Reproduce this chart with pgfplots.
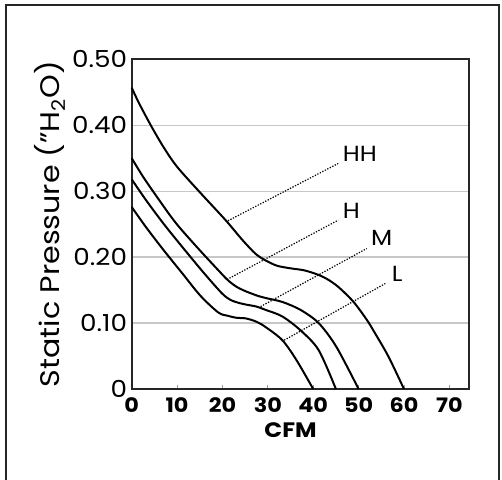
\documentclass[border=0pt]{standalone}
\usepackage{pgfplots}
\pgfplotsset{compat=1.18}
\usepackage{fontspec}
\setmainfont{Poppins}[FakeStretch=1.12]

\begin{document}
\begin{tikzpicture}
\useasboundingbox (0,0) rectangle (502bp,480bp);
% outer frame, open at the bottom
\draw[line width=2.3bp, black!85] (6bp,-10bp) -- (6bp,475bp) -- (499bp,475bp) -- (499bp,-10bp);
\begin{axis}[
    at={(131.7bp,91bp)}, anchor=south west,
    width=337.6bp, height=329.7bp, scale only axis,
    xmin=0, xmax=74.4, ymin=0, ymax=0.5,
    xtick={0,10,20,30,40,50,60,70},
    xticklabels={0,10,20,30,40,50,60,70},
    ytick={0,0.1,0.2,0.3,0.4,0.5},
    yticklabels={0,0.10,0.20,0.30,0.40,0.50},
    ymajorgrids, major grid style={black!22, line width=1.3bp},
    axis line style={black!85, line width=1.8bp},
    tick align=inside, xtick pos=bottom, ytick pos=left,
    major tick length=4bp,
    xtick style={black!40, line width=0.8bp},
    ytick style={draw=none},
    xticklabel style={anchor=north, inner sep=0pt, yshift=-8.5bp,
      font=\bfseries\fontsize{20}{20}\selectfont},
    yticklabel style={anchor=east, inner sep=0pt, xshift=-4.5bp,
      font=\fontsize{23.5}{23.5}\selectfont},
    xlabel={CFM},
    xlabel style={at={(axis description cs:0.4704,-0.124)}, anchor=center,
      font=\bfseries\fontsize{21}{21}\selectfont},
    ylabel={Static Pressure (”H\textsubscript{2}O)},
    ylabel style={at={(axis description cs:-0.242,0.5)}, anchor=center,
      font=\fontsize{27}{27}\selectfont},
    clip=false,
  ]
  % HH
  \addplot[black, line width=2bp, smooth] coordinates {
    (0,0.457) (1.5,0.435) (4.2,0.400) (7,0.367) (10,0.337) (15.2,0.297) (20.7,0.256)
    (24.4,0.226) (27.3,0.205) (29.5,0.195) (32,0.187) (35,0.183) (38,0.180)
    (40.8,0.174) (43,0.167) (45.5,0.155) (48.9,0.132) (51.8,0.105) (53.5,0.086)
    (56.6,0.049) (60,0)
  };
  % H
  \addplot[black, line width=2bp, smooth] coordinates {
    (0,0.350) (2.5,0.322) (5.8,0.289) (9.7,0.252) (14.4,0.215) (19.1,0.180)
    (21.2,0.165) (23.1,0.155) (25.2,0.148) (27.9,0.141) (29.5,0.138) (33.2,0.132)
    (37.2,0.120) (41.2,0.100) (45.1,0.064) (50,0)
  };
  % M
  \addplot[black, line width=2bp, smooth] coordinates {
    (0,0.318) (3.2,0.286) (7.1,0.250) (11.2,0.215) (15.9,0.176) (19.9,0.145)
    (21.8,0.135) (23.9,0.130) (25.2,0.128) (27.5,0.125) (29.5,0.120) (33.2,0.110)
    (37.2,0.089) (41.2,0.059) (45,0)
  };
  % L
  \addplot[black, line width=2bp, smooth] coordinates {
    (0,0.276) (3.2,0.245) (7.1,0.210) (11.2,0.175) (15.2,0.141) (19.1,0.116)
    (21.2,0.111) (23.1,0.108) (25.2,0.107) (27.5,0.102) (29.5,0.094) (33.2,0.074)
    (36.3,0.044) (40,0)
  };
  % leader lines
  \addplot[black, line width=1.2bp, dash pattern=on 1.3bp off 1.5bp] coordinates {(21.2,0.255) (45.5,0.342)};
  \addplot[black, line width=1.2bp, dash pattern=on 1.3bp off 1.5bp] coordinates {(21.0,0.166) (45.5,0.256)};
  \addplot[black, line width=1.2bp, dash pattern=on 1.3bp off 1.5bp] coordinates {(28.4,0.125) (51.8,0.213)};
  \addplot[black, line width=1.2bp, dash pattern=on 1.3bp off 1.5bp] coordinates {(33.6,0.074) (55.9,0.160)};
  \node[anchor=west, inner sep=0pt, font=\fontsize{22}{22}\selectfont] at (axis cs:46.5,0.356) {HH};
  \node[anchor=west, inner sep=0pt, font=\fontsize{22}{22}\selectfont] at (axis cs:46.5,0.270) {H};
  \node[anchor=west, inner sep=0pt, font=\fontsize{22}{22}\selectfont] at (axis cs:52.7,0.229) {M};
  \node[anchor=west, inner sep=0pt, font=\fontsize{22}{22}\selectfont] at (axis cs:57.3,0.174) {L};
\end{axis}
\end{tikzpicture}
\end{document}
